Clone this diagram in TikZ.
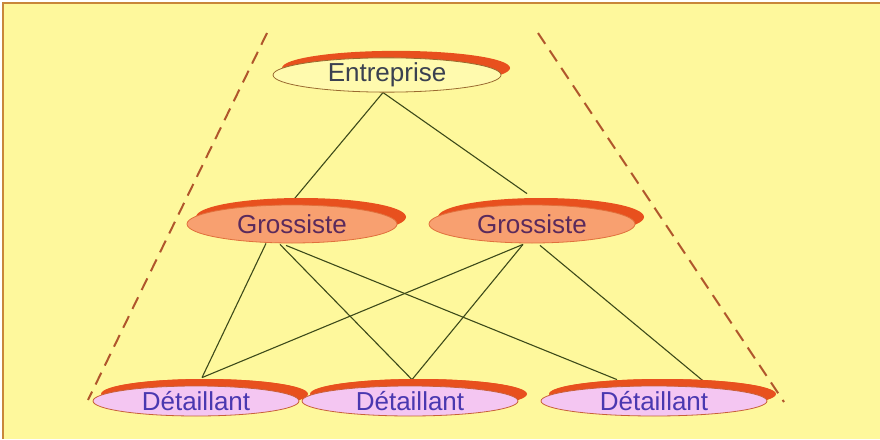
\documentclass[tikz,border=0pt]{standalone}
\usepackage{fontspec}
\setmainfont{Liberation Sans}
\usetikzlibrary{shapes.geometric,calc,shadows}
\definecolor{bgyellow}{HTML}{FEF89C}
\definecolor{framecol}{HTML}{C8873A}
\definecolor{shadred}{HTML}{E8501E}
\definecolor{entfill}{HTML}{FFFAAE}
\definecolor{entline}{HTML}{9A6A30}
\definecolor{entText}{HTML}{3A4050}
\definecolor{grofill}{HTML}{F8A070}
\definecolor{groline}{HTML}{E0703C}
\definecolor{groText}{HTML}{5A2A5C}
\definecolor{detfill}{HTML}{F4C6F2}
\definecolor{detline}{HTML}{C8603A}
\definecolor{detText}{HTML}{4A38B0}
\definecolor{linkcol}{HTML}{3D4A1A}
\definecolor{dashcol}{HTML}{B0562C}
\pgfdeclarelayer{back}
\pgfsetlayers{back,main}
\begin{document}
\begin{tikzpicture}[x=1pt,y=-1pt,
  oval/.style={ellipse, inner sep=0pt, font=\fontsize{26}{30}\selectfont,
    general shadow={fill=shadred, shadow xshift=9pt, shadow yshift=7pt}},
  entbox/.style={oval, fill=entfill, draw=entline, line width=0.8pt, text=entText},
  grobox/.style={oval, fill=grofill, draw=groline, line width=0.8pt, text=groText},
  detbox/.style={oval, fill=detfill, draw=detline, line width=0.8pt, text=detText,
    general shadow={fill=shadred, shadow xshift=8pt, shadow yshift=7pt}},
  link/.style={draw=linkcol, line width=1.1pt},
  guide/.style={draw=dashcol, line width=2pt, dash pattern=on 13pt off 8pt}]
\useasboundingbox (0,0) rectangle (880,439);

% nodes
\node[entbox, minimum width=228pt, minimum height=32pt] (e) at (387,75) {Entreprise};
\node[grobox, minimum width=210pt, minimum height=38pt] (g1) at (292,224) {Grossiste};
\node[grobox, minimum width=206pt, minimum height=38pt] (g2) at (532,224) {Grossiste};
\node[detbox, minimum width=206pt, minimum height=30pt] (d1) at (196,401) {Détaillant};
\node[detbox, minimum width=216pt, minimum height=30pt] (d2) at (410,401) {Détaillant};
\node[detbox, minimum width=226pt, minimum height=30pt] (d3) at (654,401) {Détaillant};

\coordinate (l1) at (267,33);
\coordinate (l2) at (88,400);
\coordinate (r1) at (538,33);
\coordinate (r2) at (784,402);

\begin{pgfonlayer}{back}
  \fill[white] (0,0) rectangle (880,439);
  \fill[bgyellow] (3,3) rectangle (880,439);
  \draw[framecol, line width=1.6pt] (3,439) -- (3,3) -- (880,3);
  \draw[guide] (l1) -- (l2);
  \draw[guide] (r1) -- (r2);
  % Entreprise to Grossistes
  \draw[link] ($(e.south)+(-4,0)$) -- ($(g1.north)+(0,-3)$);
  \draw[link] ($(e.south)+(-4,0)$) -- ($(g2.north)+(-5,-11)$);
  % Grossiste 1 to Détaillants
  \draw[link] ($(g1.south)+(-26,0)$) -- ($(d1.north)+(6,-8)$);
  \draw[link] ($(g1.south)+(-12,1)$) -- ($(d2.north)+(2,-6)$);
  \draw[link] ($(g1.south)+(-6,2)$) -- ($(d3.north)+(-37,-6)$);
  % Grossiste 2 to Détaillants
  \draw[link] ($(g2.south)+(-9,1)$) -- ($(d1.north)+(6,-8)$);
  \draw[link] ($(g2.south)+(-9,1)$) -- ($(d2.north)+(2,-6)$);
  \draw[link] ($(g2.south)+(8,2)$) -- ($(d3.north)+(50,-4)$);
\end{pgfonlayer}
\end{tikzpicture}
\end{document}
